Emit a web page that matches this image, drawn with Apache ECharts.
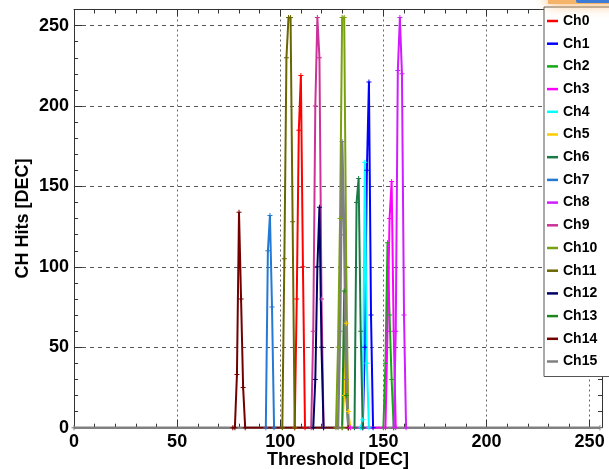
<!DOCTYPE html>
<html>
<head>
<meta charset="utf-8">
<script src="https://cdn.jsdelivr.net/npm/echarts@6/dist/echarts.min.js"></script>
<style>html,body{margin:0;padding:0;background:#fff;}#c{width:609px;height:469px;}</style>
</head>
<body>
<div id="c"></div>
<script>
// Channel names and colours
const channels = ['Ch0','Ch1','Ch2','Ch3','Ch4','Ch5','Ch6','Ch7','Ch8','Ch9','Ch10','Ch11','Ch12','Ch13','Ch14','Ch15'];
const colors = ['#ff0000','#0000ff','#14a814','#ff00ff','#00ffff','#ffcc00','#1a7a46','#2479d2','#d21cff','#cc3399','#78a010','#6a6600','#000066','#1f861f','#720000','#808080'];

// [threshold, hits] points (outside these ranges the hits are 0)
const ch0  = [[107,0],[108,80],[109,185],[110,219],[111,100],[112,0]];
const ch1  = [[140,0],[141,50],[142,160],[143,215],[144,70],[145,0]];
const ch2  = [[150,0],[151,40],[152,115],[153,70],[154,30],[155,0]];
const ch3  = [[134,0],[151,0],[152,60],[153,130],[154,153],[155,60],[156,0]];
const ch4  = [[139,0],[140,5],[141,165],[142,40],[143,0]];
const ch5  = [[130,0],[131,20],[132,65],[133,10],[134,0]];
const ch6  = [[136,0],[137,140],[138,155],[139,60],[140,0]];
const ch7  = [[93,0],[94,110],[95,132],[96,75],[97,0]];
const ch8  = [[155,0],[156,60],[157,222],[158,255],[159,220],[160,70],[161,0]];
const ch9  = [[115,0],[116,60],[117,200],[118,255],[119,230],[120,80],[121,0]];
const ch10 = [[127,0],[128,50],[129,130],[130,255],[131,255],[132,100],[133,0]];
const ch11 = [[101,0],[102,105],[103,230],[104,255],[105,255],[106,128],[107,0]];
const ch12 = [[116,0],[117,30],[118,100],[119,137],[120,50],[121,0]];
const ch13 = [[130,0],[131,85],[132,20],[133,0]];
const ch14 = [[77,0],[78,0],[79,33],[80,134],[81,80],[82,25],[83,0],[133,0]];
const ch15 = [[0,0],[128,0],[129,60],[130,178],[131,120],[132,30],[133,0],[255,0]];
const channelData = [ch0,ch1,ch2,ch3,ch4,ch5,ch6,ch7,ch8,ch9,ch10,ch11,ch12,ch13,ch14,ch15];

// axis ticks
const xTicks = [0,50,100,150,200,250];
const yTicks = [0,50,100,150,200,250];

// draw order: later ones on top
const drawOrder = [0,1,2,4,5,6,7,9,10,11,12,13,15,14,3,8];

const plus = 'path://M0,4L10,4L10,6L0,6Z M4,0L6,0L6,10L4,10Z';
const FONT = 'Liberation Sans';

const series = drawOrder.map(i => ({
  name: channels[i],
  type: 'line',
  data: channelData[i],
  symbol: plus,
  symbolSize: 5,
  showSymbol: true,
  color: colors[i],
  lineStyle: { width: i === 15 ? 2.5 : 2, color: colors[i] },
  itemStyle: { color: colors[i] },
  animation: false,
  emphasis: { disabled: true }
}));

const tickFmt = v => xTicks.includes(v) ? String(v) : '';
const yFmt = v => yTicks.includes(v) ? String(v) : '';

const chart = echarts.init(document.getElementById('c'), null, { renderer: 'canvas' });
chart.setOption({
  backgroundColor: '#ffffff',
  animation: false,
  grid: { left: 74, right: 7, top: 9.5, bottom: 41.3, containLabel: false, outerBoundsMode: 'none' },
  legend: {
    orient: 'vertical',
    left: 544, top: 7,
    data: channels,
    icon: 'rect',
    itemWidth: 11, itemHeight: 2.5,
    itemGap: 8.7,
    padding: [7, 60, 8, 3],
    backgroundColor: '#ffffff',
    borderColor: '#555555',
    borderWidth: 1,
    textStyle: { fontFamily: FONT, fontWeight: 'bold', fontSize: 14, color: '#000' },
    selectedMode: false
  },
  xAxis: [{
    type: 'value', min: 0, max: 256, interval: 50,
    name: 'Threshold [DEC]', nameLocation: 'middle', nameGap: 23, nameMoveOverlap: false,
    nameTextStyle: { fontFamily: FONT, fontWeight: 'bold', fontSize: 18, color: '#000' },
    axisLine: { show: true, lineStyle: { color: '#333', width: 1 } },
    axisTick: { show: true, inside: true, length: 8, lineStyle: { color: '#333' } },
    minorTick: { show: true, splitNumber: 5, length: 4, lineStyle: { color: '#333' } },
    axisLabel: { formatter: tickFmt, showMaxLabel: false, margin: 5, fontFamily: FONT, fontWeight: 'bold', fontSize: 18, color: '#000' },
    splitLine: { show: true, lineStyle: { color: '#666', type: [2, 3], width: 1 } }
  }, {
    type: 'value', min: 0, max: 256, interval: 50, position: 'top',
    axisLine: { show: true, onZero: false, lineStyle: { color: '#333', width: 1 } },
    axisTick: { show: true, inside: true, length: 7, lineStyle: { color: '#333' } },
    minorTick: { show: true, splitNumber: 5, length: 4, lineStyle: { color: '#333' } },
    axisLabel: { show: false },
    splitLine: { show: false }
  }],
  yAxis: [{
    type: 'value', min: 0, max: 260, interval: 50,
    name: 'CH Hits [DEC]', nameLocation: 'middle', nameGap: 42, nameMoveOverlap: false,
    nameTextStyle: { fontFamily: FONT, fontWeight: 'bold', fontSize: 18, color: '#000' },
    axisLine: { show: true, lineStyle: { color: '#333', width: 1 } },
    axisTick: { show: true, inside: true, length: 8, lineStyle: { color: '#333' } },
    minorTick: { show: true, splitNumber: 5, length: 4, lineStyle: { color: '#333' } },
    axisLabel: { formatter: yFmt, showMaxLabel: false, margin: 5, fontFamily: FONT, fontWeight: 'bold', fontSize: 18, color: '#000' },
    splitLine: { show: true, lineStyle: { color: '#555', type: [4, 4], width: 1 } }
  }, {
    type: 'value', min: 0, max: 260, interval: 50, position: 'right',
    axisLine: { show: true, onZero: false, lineStyle: { color: '#333', width: 1 } },
    axisTick: { show: true, inside: true, length: 8, lineStyle: { color: '#333' } },
    minorTick: { show: true, splitNumber: 5, length: 4, lineStyle: { color: '#333' } },
    axisLabel: { show: false },
    splitLine: { show: false }
  }],
  graphic: [
    { type: 'rect', shape: { x: 548, y: -14, width: 80, height: 18 }, style: { fill: '#f6b46a', shadowBlur: 14, shadowColor: '#f7b060' }, z: 100 },
    { type: 'rect', shape: { x: 576, y: -2, width: 40, height: 5, r: 2 }, style: { fill: '#3c7bd6' }, z: 101 }
  ],
  series: series
});
</script>
</body>
</html>
